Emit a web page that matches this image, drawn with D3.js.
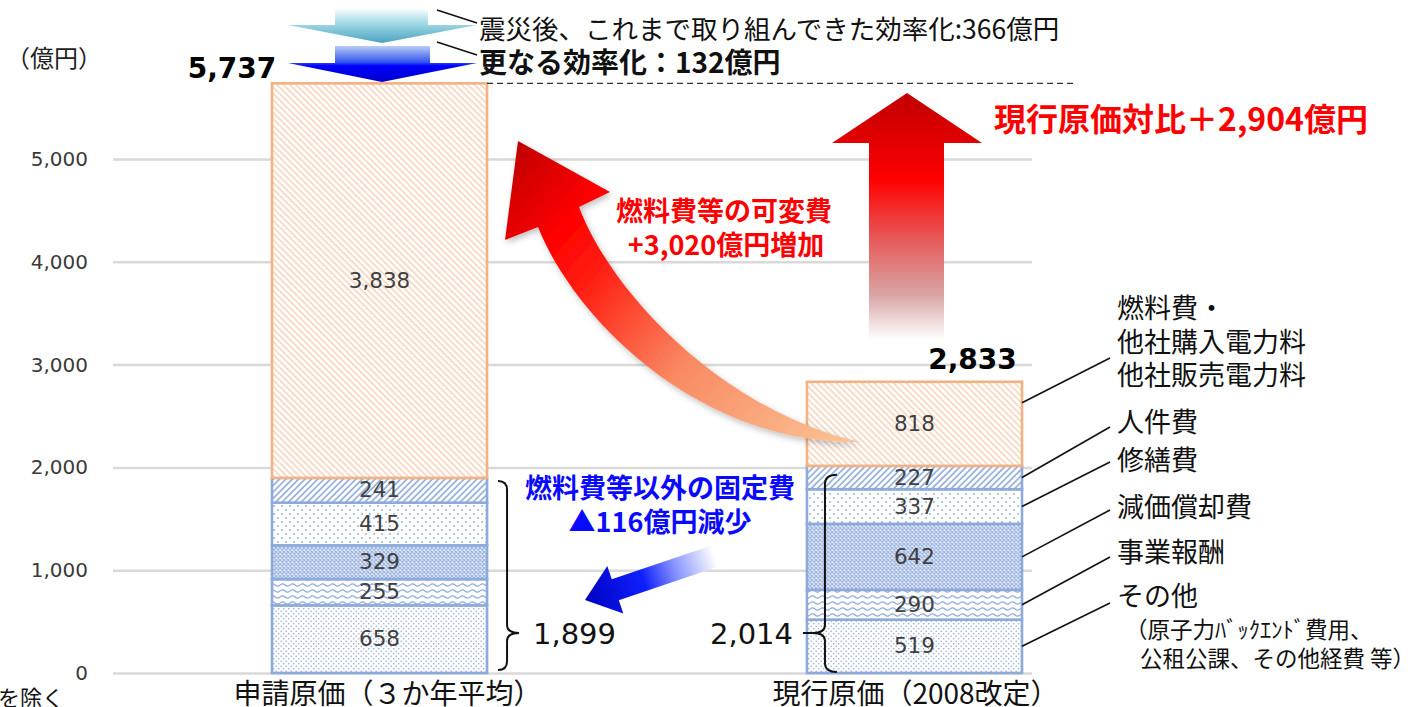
<!DOCTYPE html>
<html>
<head>
<meta charset="utf-8">
<script src="https://cdn.jsdelivr.net/npm/d3@7"></script>
<style>
  body { margin: 0; background: #fff; }
  svg { display: block; }
</style>
</head>
<body>
<svg id="chart" width="1408" height="707"></svg>
<script>
// ----- data -----
const categories = ["申請原価（３か年平均）", "現行原価（2008改定）"];
const seriesNames = ["その他", "事業報酬", "減価償却費", "修繕費", "人件費", "燃料費"];
const appliedValues = [658, 255, 329, 415, 241, 3838];
const currentValues = [519, 290, 642, 337, 227, 818];
const totalLabels = ["5,737", "2,833"];
const fixedLabels = ["1,899", "2,014"];
const yTicks = [0, 1000, 2000, 3000, 4000, 5000];
const legendText = {
  "燃料費": ["燃料費・", "他社購入電力料", "他社販売電力料"],
  "人件費": ["人件費"],
  "修繕費": ["修繕費"],
  "減価償却費": ["減価償却費"],
  "事業報酬": ["事業報酬"],
  "その他": ["その他"]
};

const JP = "'Noto Sans CJK JP', 'Noto Sans', sans-serif";
const NUM = "'DejaVu Sans', Verdana, sans-serif";
const blueEdge = "#8eaadb";
const orangeEdge = "#f4b183";

const svg = d3.select("svg#chart");
const defs = svg.append("defs");

// ----- scales -----
const x = d3.scaleBand().domain(categories).range([272, 1022]).paddingInner(0.598).paddingOuter(0);
const y = d3.scaleLinear().domain([0, 5000]).range([673, 159]);

// ----- patterns -----
function pattern(id, w, h, transform) {
  const p = defs.append("pattern").attr("id", id).attr("patternUnits", "userSpaceOnUse")
    .attr("width", w).attr("height", h);
  if (transform) p.attr("patternTransform", transform);
  p.append("rect").attr("width", w).attr("height", h).attr("fill", "#fff");
  return p;
}
let p = pattern("pDotsDense", 5, 5);
p.append("circle").attr("cx", 1.2).attr("cy", 1.2).attr("r", 0.8).attr("fill", blueEdge);
p.append("circle").attr("cx", 3.7).attr("cy", 3.7).attr("r", 0.8).attr("fill", blueEdge);

p = pattern("pWave", 10, 6);
p.append("path").attr("d", "M0,3 Q2.5,0.6 5,3 T10,3").attr("fill", "none")
  .attr("stroke", blueEdge).attr("stroke-width", 1.1);

p = pattern("pCross", 4, 4);
p.select("rect").attr("fill", "#e4ebf8");
p.append("path").attr("d", "M0,0 L4,4 M4,0 L0,4").attr("stroke", "#9bb4e0").attr("stroke-width", 1.1);

p = pattern("pDotsSparse", 8, 8);
p.append("circle").attr("cx", 2).attr("cy", 2).attr("r", 0.9).attr("fill", blueEdge);
p.append("circle").attr("cx", 6).attr("cy", 6).attr("r", 0.9).attr("fill", blueEdge);

p = pattern("pDiagBlue", 4.5, 4.5, "rotate(45)");
p.append("line").attr("x1", 1).attr("x2", 1).attr("y1", 0).attr("y2", 4.5)
  .attr("stroke", blueEdge).attr("stroke-width", 1.6);

p = pattern("pDiagOrange", 4.5, 4.5, "rotate(-45)");
p.append("line").attr("x1", 1).attr("x2", 1).attr("y1", 0).attr("y2", 4.5)
  .attr("stroke", "#f8cbad").attr("stroke-width", 1.3);

const fillFor = {
  "その他": "pDotsDense", "事業報酬": "pWave", "減価償却費": "pCross",
  "修繕費": "pDotsSparse", "人件費": "pDiagBlue", "燃料費": "pDiagOrange"
};

// ----- gradients -----
function gradient(id, x1, y1, x2, y2, stops, user) {
  const g = defs.append("linearGradient").attr("id", id)
    .attr("x1", x1).attr("y1", y1).attr("x2", x2).attr("y2", y2);
  if (user) g.attr("gradientUnits", "userSpaceOnUse");
  stops.forEach(s => g.append("stop").attr("offset", s[0]).attr("stop-color", s[1]));
}
gradient("gCurve", 860, 442, 518, 141,
  [[0, "#fbc597"], [0.4, "#f98a62"], [0.68, "#ff1e12"], [0.8, "#ff0000"], [1, "#c00000"]], true);
gradient("gUp", 0, 93, 0, 340,
  [[0, "#c00000"], [0.35, "#ff0000"], [0.6, "#e65c5c"], [0.82, "#d9a6a6"], [1, "#ffffff"]], true);
gradient("gBlueLeft", 0, 0, 1, 0,
  [[0, "#ffffff"], [0.3, "#8a96ff"], [0.55, "#1020ff"], [1, "#0000c0"]]);
gradient("gTeal", 0, 0, 0, 1,
  [[0, "#ffffff"], [0.4, "#a9dce9"], [1, "#4aa3c0"]]);
gradient("gNavy", 0, 0, 0, 1,
  [[0, "#b8ccf4"], [0.45, "#3355ee"], [0.55, "#0000ff"], [1, "#0000c8"]]);

const shadow = defs.append("filter").attr("id", "shadow").attr("x", "-20%").attr("y", "-20%")
  .attr("width", "140%").attr("height", "140%");
shadow.append("feDropShadow").attr("dx", 2).attr("dy", 3).attr("stdDeviation", 3)
  .attr("flood-color", "#000").attr("flood-opacity", 0.25);

// ----- axis + gridlines -----
const axis = svg.append("g").attr("transform", "translate(113,0)")
  .call(d3.axisLeft(y).tickValues(yTicks).tickSize(-919).tickPadding(25).tickFormat(d3.format(",")));
axis.select(".domain").remove();
axis.selectAll(".tick line").attr("stroke", "#d9d9d9").attr("stroke-width", 2.5);
axis.selectAll(".tick text").attr("font-family", NUM).attr("font-size", 20).attr("fill", "#3a3a3a");

svg.append("text").attr("x", 6).attr("y", 60).attr("dominant-baseline", "middle")
  .attr("font-family", JP).attr("font-size", 24).attr("fill", "#222").text("（億円）");

// ----- stacked bars -----
const rows = categories.map((c, i) => {
  const r = { cat: c };
  const vals = i === 0 ? appliedValues : currentValues;
  seriesNames.forEach((s, j) => r[s] = vals[j]);
  return r;
});
const stacked = d3.stack().keys(seriesNames)(rows);

const layers = svg.append("g").selectAll("g.layer").data(stacked).join("g").attr("class", "layer");
layers.selectAll("rect").data(d => d.map(v => ({ key: d.key, v }))).join("rect")
  .attr("x", d => x(d.v.data.cat))
  .attr("y", d => y(d.v[1]))
  .attr("width", x.bandwidth())
  .attr("height", d => y(d.v[0]) - y(d.v[1]))
  .attr("fill", d => `url(#${fillFor[d.key]})`)
  .attr("stroke", d => d.key === "燃料費" ? orangeEdge : blueEdge)
  .attr("stroke-width", 2.6);

layers.selectAll("text").data(d => d.map(v => ({ key: d.key, v }))).join("text")
  .attr("x", d => x(d.v.data.cat) + x.bandwidth() / 2)
  .attr("y", d => (y(d.v[0]) + y(d.v[1])) / 2 + 1)
  .attr("text-anchor", "middle").attr("dominant-baseline", "middle")
  .attr("font-family", NUM).attr("font-size", 21.5).attr("fill", "#404040")
  .text(d => d3.format(",")(d.v[1] - d.v[0]));

// totals
svg.selectAll("text.total").data(categories).join("text").attr("class", "total")
  .attr("x", (d, i) => i === 0 ? x(d) - 40 : x(d) + x.bandwidth() / 2 + 58)
  .attr("y", (d, i) => y(stacked[stacked.length - 1][i][1]) - (i === 0 ? 13 : 21))
  .attr("text-anchor", "middle").attr("dominant-baseline", "middle")
  .attr("font-family", NUM).attr("font-weight", "bold").attr("font-size", 28).attr("fill", "#000")
  .text((d, i) => totalLabels[i]);

// category labels
svg.selectAll("text.cat").data(categories).join("text").attr("class", "cat")
  .attr("x", (d, i) => x(d) + x.bandwidth() / 2 + (i === 0 ? 8 : 1))
  .attr("y", 696).attr("text-anchor", "middle").attr("dominant-baseline", "middle")
  .attr("font-family", JP).attr("font-size", 28).attr("fill", "#111").text(d => d);

svg.append("text").attr("x", 64).attr("y", 700).attr("text-anchor", "end")
  .attr("dominant-baseline", "middle").attr("font-family", JP).attr("font-size", 22)
  .attr("fill", "#111").text("等を除く");

// ----- braces for fixed costs -----
const fixedTop = [d3.sum(appliedValues.slice(0, 5)), d3.sum(currentValues.slice(0, 5))];
const b1x = x(categories[0]) + x.bandwidth() + 20, b1t = y(fixedTop[0]) + 3, b1b = y(0) - 3, bm = 633;
svg.append("path").attr("fill", "none").attr("stroke", "#111").attr("stroke-width", 2)
  .attr("d", `M${b1x - 9},${b1t} Q${b1x},${b1t} ${b1x},${b1t + 9} L${b1x},${bm - 8} Q${b1x},${bm} ${b1x + 12},${bm}
              Q${b1x},${bm} ${b1x},${bm + 8} L${b1x},${b1b - 9} Q${b1x},${b1b} ${b1x - 9},${b1b}`);
const b2x = x(categories[1]) + 18, b2t = y(fixedTop[1]) + 9, b2b = y(0) - 1;
svg.append("path").attr("fill", "none").attr("stroke", "#111").attr("stroke-width", 2)
  .attr("d", `M${b2x + 12},${b2t} Q${b2x},${b2t} ${b2x},${b2t + 9} L${b2x},${bm - 8} Q${b2x},${bm} ${b2x - 12},${bm}
              Q${b2x},${bm} ${b2x},${bm + 8} L${b2x},${b2b - 9} Q${b2x},${b2b} ${b2x + 12},${b2b}`);
svg.append("line").attr("x1", b2x - 22).attr("x2", b2x - 12).attr("y1", bm).attr("y2", bm)
  .attr("stroke", "#111").attr("stroke-width", 2);

svg.append("text").attr("x", 533).attr("y", bm + 3).attr("dominant-baseline", "middle")
  .attr("font-family", NUM).attr("font-size", 29).attr("fill", "#111").text(fixedLabels[0]);
svg.append("text").attr("x", 793).attr("y", bm + 3).attr("text-anchor", "end").attr("dominant-baseline", "middle")
  .attr("font-family", NUM).attr("font-size", 29).attr("fill", "#111").text(fixedLabels[1]);

// ----- legend labels with leader lines -----
const legendY = { "燃料費": [311, 345, 378], "人件費": [425], "修繕費": [463], "減価償却費": [510], "事業報酬": [555], "その他": [599] };
const leaderEnd = { "燃料費": 358, "人件費": 427, "修繕費": 462, "減価償却費": 510, "事業報酬": 557, "その他": 603 };
const barRight = x(categories[1]) + x.bandwidth();
stacked.forEach(layer => {
  const seg = layer[1];
  const frac = layer.key === "燃料費" ? 0.75 : 0.5;
  const yStart = y(seg[0] + (seg[1] - seg[0]) * frac);
  svg.append("line").attr("x1", barRight).attr("y1", yStart).attr("x2", 1110).attr("y2", leaderEnd[layer.key])
    .attr("stroke", "#111").attr("stroke-width", 1.6);
  legendText[layer.key].forEach((t, i) => {
    svg.append("text").attr("x", 1117).attr("y", legendY[layer.key][i]).attr("dominant-baseline", "middle")
      .attr("font-family", JP).attr("font-size", 27).attr("fill", "#111").text(t);
  });
});
svg.append("text").attr("x", 1125).attr("y", 632).attr("dominant-baseline", "middle")
  .attr("font-family", JP).attr("font-size", 22.5).attr("fill", "#111").text("（原子力ﾊﾞｯｸｴﾝﾄﾞ費用、");
svg.append("text").attr("x", 1140).attr("y", 661).attr("dominant-baseline", "middle")
  .attr("font-family", JP).attr("font-size", 22.5).attr("fill", "#111").text("公租公課、その他経費 等）");

// ----- annotations -----
const topY = y(d3.sum(appliedValues));
svg.append("line").attr("x1", x(categories[0]) + x.bandwidth()).attr("x2", 1077)
  .attr("y1", topY).attr("y2", topY).attr("stroke", "#333").attr("stroke-width", 1.3)
  .attr("stroke-dasharray", "6,4");

// top efficiency arrows
svg.append("path").attr("fill", "url(#gTeal)")
  .attr("d", "M335,8 L428,8 L428,25 L477,25 L382,43 L288,25 L335,25 Z");
svg.append("path").attr("fill", "url(#gNavy)")
  .attr("d", "M335,46 L430,46 L430,63 L477,63 L382,82 L288,63 L335,63 Z");
svg.append("line").attr("x1", 437).attr("y1", 10).attr("x2", 477).attr("y2", 23).attr("stroke", "#111").attr("stroke-width", 1.5);
svg.append("line").attr("x1", 437).attr("y1", 42).attr("x2", 477).attr("y2", 55).attr("stroke", "#111").attr("stroke-width", 1.5);
svg.append("text").attr("x", 479).attr("y", 32).attr("dominant-baseline", "middle")
  .attr("font-family", JP).attr("font-size", 26.5).attr("fill", "#111").text("震災後、これまで取り組んできた効率化:366億円");
svg.append("text").attr("x", 479).attr("y", 65).attr("dominant-baseline", "middle")
  .attr("font-family", JP).attr("font-weight", "bold").attr("font-size", 28).attr("fill", "#111").text("更なる効率化：132億円");

// big red up arrow
svg.append("path").attr("fill", "url(#gUp)")
  .attr("d", "M832,143 L907,93 L982,143 L944,143 L944,340 L869,340 L869,143 Z");
svg.append("text").attr("x", 994).attr("y", 122).attr("dominant-baseline", "middle")
  .attr("font-family", JP).attr("font-weight", "bold").attr("font-size", 32).attr("fill", "#ff0000")
  .text("現行原価対比＋2,904億円");

// curved variable-cost arrow
svg.append("path").attr("fill", "url(#gCurve)").attr("filter", "url(#shadow)")
  .attr("d", "M860,442 C700,445 575,320 538,227 L505,240 L518,141 L610,192 L579,207 C610,290 720,410 860,442 Z");
svg.append("text").attr("x", 724).attr("y", 214).attr("text-anchor", "middle").attr("dominant-baseline", "middle")
  .attr("font-family", JP).attr("font-weight", "bold").attr("font-size", 27).attr("fill", "#ff0000").text("燃料費等の可変費");
svg.append("text").attr("x", 726).attr("y", 248).attr("text-anchor", "middle").attr("dominant-baseline", "middle")
  .attr("font-family", JP).attr("font-weight", "bold").attr("font-size", 27).attr("fill", "#ff0000").text("+3,020億円増加");

// blue fixed-cost arrow
const tail = [715, 556], tip = [585, 600];
const len = Math.hypot(tip[0] - tail[0], tip[1] - tail[1]);
const ang = Math.atan2(tip[1] - tail[1], tip[0] - tail[0]) * 180 / Math.PI;
svg.append("path").attr("fill", "url(#gBlueLeft)")
  .attr("transform", `translate(${tail[0]},${tail[1]}) rotate(${ang})`)
  .attr("d", `M0,-11 L${len - 32},-11 L${len - 32},-25 L${len},0 L${len - 32},25 L${len - 32},11 L0,11 Z`);
svg.append("text").attr("x", 660).attr("y", 491).attr("text-anchor", "middle").attr("dominant-baseline", "middle")
  .attr("font-family", JP).attr("font-weight", "bold").attr("font-size", 27).attr("fill", "#0a0aff").text("燃料費等以外の固定費");
svg.append("text").attr("x", 660).attr("y", 525).attr("text-anchor", "middle").attr("dominant-baseline", "middle")
  .attr("font-family", JP).attr("font-weight", "bold").attr("font-size", 27).attr("fill", "#0a0aff").text("▲116億円減少");
</script>
</body>
</html>
